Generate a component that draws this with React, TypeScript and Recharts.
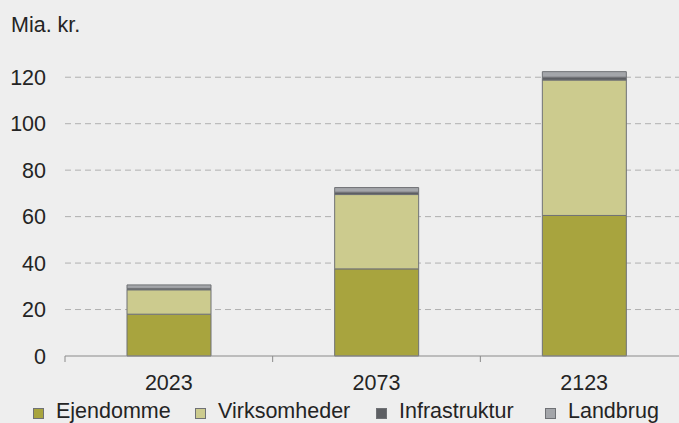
import React from 'react';
import { BarChart, Bar, XAxis, YAxis, CartesianGrid, Legend } from 'recharts';

const categories = ['2023', '2073', '2123'];
const ejendomme = [18, 37.5, 60.5];
const virksomheder = [10.5, 32, 58.3];
const infrastruktur = [0.6, 1, 1.2];
const landbrug = [1.5, 2, 2.4];
const yTicks = [0, 20, 40, 60, 80, 100, 120];
const gridValues = [20, 40, 60, 80, 100, 120];
const unitLabel = 'Mia. kr.';

const seriesNames = ['Ejendomme', 'Virksomheder', 'Infrastruktur', 'Landbrug'];
const seriesKeys = ['e', 'v', 'i', 'l'];
const seriesColors = ['#a8a43e', '#cccb8e', '#5d5f63', '#a4a6aa'];

const data = categories.map((c, i) => ({
  name: c,
  e: ejendomme[i],
  v: virksomheder[i],
  i: infrastruktur[i],
  l: landbrug[i],
}));

const FONT = '"Liberation Sans", Arial, sans-serif';
const TEXT = '#242424';
const FS = 21.5;
const CHART_W = 700;
const CHART_H = 423;
const MARGIN = { top: 54, right: 12, left: 0, bottom: 0 };
const Y_W = 65;
const BAND = (CHART_W - MARGIN.left - MARGIN.right - Y_W) / categories.length;

const YTick = (props: any) => {
  const { x, y, payload } = props;
  return (
    <text x={x} y={y} dy={7.5} textAnchor="end" fontFamily={FONT} fontSize={FS} fill={TEXT}>
      {payload.value}
    </text>
  );
};

const XTick = (props: any) => {
  const { x, y, payload, index } = props;
  const last = index === categories.length - 1;
  return (
    <g>
      <line x1={x - BAND / 2} x2={x - BAND / 2} y1={y} y2={y + 6} stroke="#8a8a8a" />
      {last && <line x1={x + BAND / 2} x2={x + BAND / 2} y1={y} y2={y + 6} stroke="#8a8a8a" />}
      <text x={x} y={y} dy={33.5} textAnchor="middle" fontFamily={FONT} fontSize={FS} fill={TEXT}>
        {payload.value}
      </text>
    </g>
  );
};

const legendLeft = [33, 195, 376, 545];

const LegendContent = () => (
  <div style={{ position: 'relative', height: 37, width: CHART_W }}>
    {seriesNames.map((n, i) => (
      <div key={n} style={{ position: 'absolute', left: legendLeft[i], top: 0, height: 37 }}>
        <div
          style={{
            position: 'absolute',
            left: 0,
            top: 22,
            width: 9,
            height: 9,
            background: seriesColors[i],
            border: '1px solid #6f7175',
          }}
        />
        <div
          style={{
            position: 'absolute',
            left: 23,
            top: 13,
            fontFamily: FONT,
            fontSize: FS,
            color: TEXT,
            whiteSpace: 'nowrap',
            lineHeight: '24px',
          }}
        >
          {n}
        </div>
      </div>
    ))}
  </div>
);

export default function App() {
  return (
    <div
      style={{
        position: 'fixed',
        left: 0,
        top: 0,
        width: 679,
        height: 423,
        overflow: 'hidden',
        background: '#eeeeee',
      }}
    >
      <BarChart width={CHART_W} height={CHART_H} data={data} margin={MARGIN} barSize={84}>
        <CartesianGrid
          vertical={false}
          horizontalValues={gridValues}
          stroke="#b0b0b0"
          strokeDasharray="6 4"
        />
        <XAxis
          dataKey="name"
          height={30}
          tickLine={false}
          tickSize={0}
          tickMargin={0}
          axisLine={{ stroke: '#8a8a8a' }}
          tick={<XTick />}
          interval={0}
        />
        <YAxis
          width={Y_W}
          domain={[0, 130]}
          ticks={yTicks}
          axisLine={false}
          tickLine={false}
          tickSize={0}
          tickMargin={19}
          tick={<YTick />}
          label={{
            content: () => (
              <text x={11} y={32} fontFamily={FONT} fontSize={FS} fill={TEXT}>
                {unitLabel}
              </text>
            ),
          }}
        />
        <Legend
          verticalAlign="bottom"
          content={<LegendContent />}
          wrapperStyle={{ left: 0, bottom: 0, width: CHART_W, height: 37 }}
        />
        {seriesKeys.map((k, i) => (
          <Bar
            key={k}
            dataKey={k}
            name={seriesNames[i]}
            stackId="a"
            fill={seriesColors[i]}
            stroke="#6f7175"
            strokeWidth={1}
            isAnimationActive={false}
          />
        ))}
      </BarChart>
    </div>
  );
}
